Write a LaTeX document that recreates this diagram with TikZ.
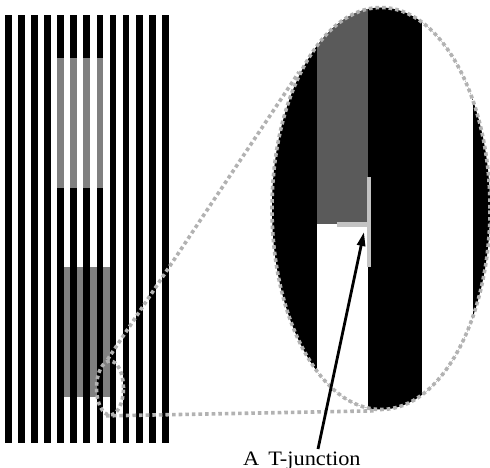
\documentclass[tikz,border=0pt]{standalone}
\usepackage{fontspec}
\setmainfont{Liberation Serif}
\newfontfamily\labfont[FakeStretch=1.09]{Liberation Serif}
\usetikzlibrary{arrows.meta,shapes.geometric}
\definecolor{lgray}{RGB}{128,128,128}
\definecolor{mgray}{RGB}{90,90,90}
\definecolor{dotgray}{RGB}{178,178,178}
\definecolor{tgray}{RGB}{195,195,195}
\begin{document}
\begin{tikzpicture}[x=1pt,y=-1pt,
  dotline/.style={draw=dotgray, line width=3.6pt, dash pattern=on 3.6pt off 3pt},
  lens/.style={ellipse, dotline, inner sep=0pt}]
\useasboundingbox (0,0) rectangle (490,468);
% grating
\fill[lgray] (63.8,267) rectangle (109.6,397);
\foreach \i in {0,...,12} \fill[black] (5+13.08*\i,15) rectangle ++(6.7,428);
\foreach \i in {4,...,7} \fill[lgray] (5+13.08*\i,58) rectangle ++(6.7,130);
% magnified view
\begin{scope}
\clip (381,208.5) ellipse [x radius=109, y radius=201];
\fill[black] (270,0) rectangle (490,420);
\fill[white] (422,0) rectangle (473,420);
\fill[mgray] (317,0) rectangle (368,224);
\fill[white] (317,224) rectangle (368,420);
\end{scope}
\fill[tgray] (366.5,177) rectangle (370.5,267);
\fill[tgray] (337,221.5) rectangle (368,226.5);
% lenses
\node[lens, minimum width=27pt, minimum height=54pt] (small) at (110,388) {};
\node[lens, minimum width=218pt, minimum height=402pt] (big) at (381,208.5) {};
\draw[dotline] (small.95) -- (big.121);
\draw[dotline] (small.262) -- (big.268);
% label and arrow
\node[anchor=base west, inner sep=0pt, font=\labfont\fontsize{20.5}{20.5}\selectfont] (lab) at (243,465) {A\hspace{9pt}T-junction};
\coordinate (tail) at (318,449);
\coordinate (tj) at (364,232);
\draw[line width=2.8pt, -{Triangle[length=14pt,width=8pt]}] (tail) -- (tj);
\end{tikzpicture}
\end{document}
